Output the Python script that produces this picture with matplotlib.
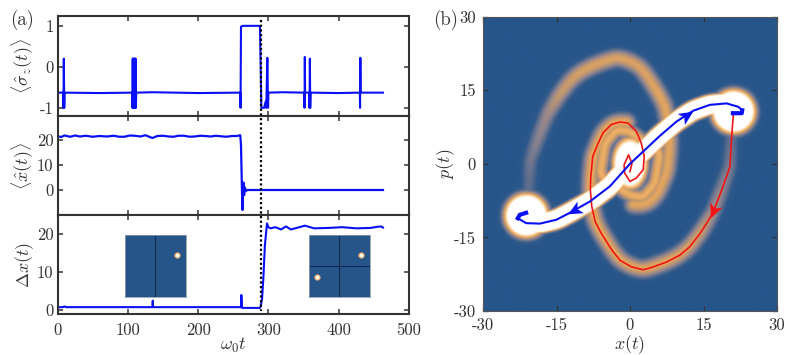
import numpy as np
import matplotlib
matplotlib.use("Agg")
import matplotlib.pyplot as plt
from matplotlib.colors import LinearSegmentedColormap
from matplotlib.lines import Line2D
from matplotlib.patches import Polygon
from matplotlib.transforms import blended_transform_factory

plt.rcParams['font.family'] = ['cmr10', 'DejaVu Sans']
plt.rcParams['mathtext.fontset'] = 'cm'
plt.rcParams['axes.unicode_minus'] = False
plt.rcParams['axes.formatter.use_mathtext'] = True

W, H = 797, 355
INK = '#333333'
BLUE = '#0a10f5'
RED = '#f01414'

# ---------- panel (a) data ----------
sz_t = [0, 8, 8.5, 9, 9.6, 10, 60, 106, 106.5, 107, 107.5, 108, 108.5, 109, 109.5, 110, 110.5, 111, 111.5, 112, 135,
        200, 260, 260.4, 261, 264, 287, 288, 290, 294, 296, 297, 298.5, 299.5, 300, 320, 351, 351.4, 351.8, 352.2,
        358, 358.5, 359, 359.5, 360, 400, 430, 430.4, 430.8, 431.2, 463]
sz_v = [-.63, -.63, -1, .2, -1, -.63, -.64, -.63, -1, .2, -1, .2, -1, .2, -1, .2, -1, .2, -1, -.63, -.62,
        -.64, -.63, -1, .98, 1, 1, .98, -1, -1, -.85, -1, .22, -1, -.63, -.62, -.63, -1, .24, -.63,
        -.63, -1, .2, -1, -.63, -.64, -.63, -1, .22, -.63, -.63]

xm_t = [0, 5, 10, 18, 25, 32, 40, 50, 60, 70, 80, 88, 95, 103, 110, 118, 125, 135, 142, 150, 158, 165, 172, 180, 188,
        195, 203, 210, 218, 225, 232, 240, 248, 255, 260, 261,
        263, 264.5, 265.5, 266.5, 268, 270, 300, 463]
xm_v = [21.5, 21.2, 21.8, 21.3, 21.8, 21.4, 21.7, 21.3, 21.6, 21.4, 21.7, 21.3, 21.3, 21.8, 21.7, 21.4, 21.9, 20.8,
        21.6, 21.7, 21.4, 21.3, 21.7, 21.7, 21.3, 21.4, 21.7, 21.6, 21.4, 21.7, 21.5, 21.3, 21.6, 21.6, 21.9, 18,
        -8, 3, -2, 1, -.4, 0, 0, 0]

dx_t = [0, 8, 10, 12, 135, 135.5, 136, 136.5, 261, 261.5, 262.5, 288, 289, 291, 293, 295, 298, 300, 303,
        310, 318, 325, 332, 340, 352, 365, 385, 405, 425, 445, 455, 460, 463]
dx_v = [.8, .8, 1, .8, .8, 2.5, .8, .8, .8, 4, .6, .6, 1, 3, 9, 17, 22.8, 21.8, 21.5,
        21.8, 21.2, 22, 21.2, 21.6, 22.2, 21.5, 21.6, 21.8, 21.5, 21.6, 21.9, 22, 21.7]
marker_t = 290

inset_left_pts = [(0.85, 0.67)]
inset_right_pts = [(0.85, 0.67), (0.14, 0.32)]

# ---------- panel (b) data ----------
blue_x = [21, 22.8, 22.9, 22.1, 19.7, 16.3, 12.9, 9.5, 6, 2.7, 0, -4.1, -8.2, -12.3, -15, -18.4, -21.2, -22.9, -22.5, -21.2]
blue_p = [10.3, 10.3, 10.9, 11.6, 12.3, 12, 10.8, 8.6, 5.6, 2.5, 0, -4.6, -7.7, -10, -11.4, -12.2, -12.1, -11.1, -10.4, -10]

red_x = [21.1, 20.7, 20.4, 18.7, 17, 15.6, 14.3, 12.2, 10.2, 7.5, 4.8, 2.7, .3, -2, -3.7, -5.9, -7.1, -7.8, -8.1, -8,
         -7.6, -6.5, -5.5, -3.8, -2.1, -.4, 1.3, 2.3, 2.9, 2.7, 1.3, 0, -1.1, -1.2, -.3, .4, 0]
red_p = [10.2, 4.8, -.6, -5.4, -9.8, -12.2, -14.2, -16.9, -18.6, -20, -21, -21.6, -21, -19.7, -17.6, -14.1, -11.8,
         -8.7, -5.3, -2.6, 1.5, 4.2, 6.3, 8, 8.5, 8.3, 6.6, 4.2, 1.5, -1.2, -2.9, -3.6, -1.9, -.2, 1.8, .1, -1.6]
red_glow = [.3, .2, .25, .3, .34, .4, .44, .47, .49, .5, .5, .5, .5, .5, .5, .52, .52, .52, .52, .52,
            .52, .52, .52, .52, .52, .52, .52, .52, .52, .52, .52, .52, .52, .52, .52, .52, .52]
ring_end = 26

inner_x = [-4, -6.1, -5.1, -2.7, 0, 2.4]
inner_p = [-5, -1.9, 4.1, 6.9, 6.5, 4.8]

blob_x = [21.2, -21.2]
blob_p = [10.6, -10.6]

# ---------- layout ----------
def axbox(l, t, r, b):
    return [l / W, 1 - b / H, (r - l) / W, (b - t) / H]

fig = plt.figure(figsize=(W / 100, H / 100), dpi=100)
ax1 = fig.add_axes(axbox(57.5, 16, 409, 116))
ax2 = fig.add_axes(axbox(57.5, 116, 409, 215))
ax3 = fig.add_axes(axbox(57.5, 215, 409, 314))
axb = fig.add_axes(axbox(483, 16.5, 777, 311))

xt = [0, 100, 200, 300, 400, 500]
for ax, ylim, yt, ytl, lab in [
    (ax1, (-1.2, 1.24), [-1, 0, 1], ['-1', '0', '1'], r'$\langle\hat{\sigma}_z(t)\rangle$'),
    (ax2, (-10, 29.6), [0, 10, 20], ['0', '10', '20'], r'$\langle\hat{x}(t)\rangle$'),
    (ax3, (-1, 25), [0, 10, 20], ['0', '10', '20'], r'$\Delta x(t)$'),
]:
    ax.set_xlim(0, 500)
    ax.set_ylim(*ylim)
    ax.set_xticks(xt)
    ax.set_yticks(yt)
    ax.set_yticklabels(ytl)
    ax.tick_params(direction='in', top=True, right=True, length=3.5, width=1.1, colors=INK,
                   labelsize=12, pad=3)
    ax.tick_params(axis='x', pad=6)
    ax.set_ylabel(lab, fontsize=13, color=INK)
    ax.yaxis.set_label_coords(-0.06, 0.5)
    for s in ax.spines.values():
        s.set_linewidth(1.5)
        s.set_color(INK)
ax1.tick_params(labelbottom=False)
ax2.tick_params(labelbottom=False)
ax3.set_xticklabels([str(v) for v in xt])
ax3.set_xlabel(r'$\omega_0 t$', fontsize=13, color=INK, labelpad=-1)

ax1.plot(sz_t, sz_v, color=BLUE, lw=1.5)
ax2.plot(xm_t, xm_v, color=BLUE, lw=1.6)
ax3.plot(dx_t, dx_v, color=BLUE, lw=1.5)

tr = blended_transform_factory(ax3.transData, fig.transFigure)
fig.add_artist(Line2D([marker_t, marker_t], [1 - 20 / H, 1 - 311 / H], transform=tr, color='k', lw=1.6,
                      ls=(0, (1, 1.1)), zorder=10))

# ---------- colour map ----------
cmap = LinearSegmentedColormap.from_list('wig', [(0, '#26558a'), (.1, '#2d588a'), (.28, '#8a8290'),
                                                 (.5, '#e6a65c'), (.72, '#fbd9a8'), (1, '#ffffff')])

# insets
for l, pts, cross in [(124.7, inset_left_pts, False), (308.7, inset_right_pts, True)]:
    ins = fig.add_axes(axbox(l, 235, l + 61.5, 296.5))
    ins.set_facecolor('#26558a')
    ins.set_xlim(0, 1)
    ins.set_ylim(0, 1)
    ins.set_xticks([])
    ins.set_yticks([])
    for s in ins.spines.values():
        s.set_linewidth(.6)
        s.set_color('#8f9aa8')
    ins.axvline(.5, color='#0f2c50', lw=.8)
    if cross:
        ins.axhline(.5, color='#0f2c50', lw=.8)
    for p in pts:
        ins.scatter(*p, s=20, color='#f0b070', linewidths=0, zorder=3)
        ins.scatter(*p, s=7, color='white', linewidths=0, zorder=4)

# ---------- panel (b) field ----------
gx = np.linspace(-30, 30, 400)
X, P = np.meshgrid(gx, gx)
Z = np.zeros_like(X)


def stamp(xs, ps, amps, sigma):
    """Ridge of brightness along a read-off path."""
    global Z
    xs, ps, amps = map(lambda v: np.asarray(v, float), (xs, ps, amps))
    s = np.r_[0, np.cumsum(np.hypot(np.diff(xs), np.diff(ps)))]
    u = np.arange(0, s[-1], .25)
    xx, pp, aa = np.interp(u, s, xs), np.interp(u, s, ps), np.interp(u, s, amps)
    k = np.ones(9) / 9
    pad = lambda v: np.convolve(np.r_[[v[0]] * 4, v, [v[-1]] * 4], k, mode='valid')
    xx, pp, aa = pad(xx), pad(pp), pad(aa)
    for a, b, c in zip(xx, pp, aa):
        Z = np.maximum(Z, c * np.exp(-((X - a) ** 2 + (P - b) ** 2) / (2 * sigma ** 2)))


glow = np.array(red_glow)
rx, rp = np.array(red_x), np.array(red_p)
stamp(rx[:ring_end], rp[:ring_end], glow[:ring_end], 1.35)
stamp(-rx[:ring_end], -rp[:ring_end], glow[:ring_end] * .95, 1.35)
stamp(inner_x, inner_p, np.full(len(inner_x), .54), 1.1)
stamp(-np.array(inner_x), -np.array(inner_p), np.full(len(inner_x), .54), 1.1)
bx, bp = np.array(blue_x[3:17]), np.array(blue_p[3:17])
stamp(bx, bp, np.full(len(bx), 6.0), .9)
for a, b in zip(blob_x, blob_p):
    Z = np.maximum(Z, 6 * np.exp(-((X - a) ** 2 + (P - b) ** 2) / (2 * 2.0 ** 2)))
Z = np.maximum(Z, 4 * np.exp(-(X ** 2 / (2 * 1.7 ** 2) + P ** 2 / (2 * 2.5 ** 2))))

axb.imshow(np.clip(Z, 0, 1), extent=(-30, 30, -30, 30), origin='lower', cmap=cmap, vmin=0, vmax=1,
           aspect='auto', interpolation='bilinear')
axb.plot(red_x, red_p, color=RED, lw=1.2)
axb.plot(blue_x, blue_p, color=BLUE, lw=1.5)
axb.plot(blue_x[:3], blue_p[:3], color=BLUE, lw=3)
axb.plot(blue_x[-3:], blue_p[-3:], color=BLUE, lw=3)


def stealth(tip, deg, col, length=2.9, half=1.35, notch=.75):
    a = np.radians(deg)
    d = np.array([np.cos(a), np.sin(a)])
    n = np.array([-d[1], d[0]])
    tip = np.array(tip)
    axb.add_patch(Polygon([tip, tip - length * d + half * n, tip - (length - notch) * d,
                           tip - length * d - half * n], closed=True, color=col, lw=0, zorder=5))


stealth((12.9, 10.6), 33, BLUE)
stealth((-12.6, -10.3), 209, BLUE)
stealth((16.5, -11.1), 247, RED)

axb.set_xlim(-30, 30)
axb.set_ylim(-30, 30)
bt = [-30, -15, 0, 15, 30]
btl = ['-30', '-15', '0', '15', '30']
axb.set_xticks(bt)
axb.set_yticks(bt)
axb.set_xticklabels(btl)
axb.set_yticklabels(btl)
axb.tick_params(direction='in', top=True, right=True, length=3.5, width=.9, colors=INK, labelsize=12, pad=5)
axb.tick_params(axis='x', pad=5)
axb.set_xlabel(r'$x(t)$', fontsize=13, color=INK, labelpad=0)
axb.set_ylabel(r'$p(t)$', fontsize=13, color=INK)
axb.yaxis.set_label_coords(-0.09, 0.5)
for s in axb.spines.values():
    s.set_linewidth(.8)
    s.set_color('#555555')

fig.text(10 / W, 1 - 20 / H, '(a)', fontsize=13.5, color=INK, va='center')
fig.text(433 / W, 1 - 20 / H, '(b)', fontsize=13.5, color=INK, va='center')

fig.savefig('out.png', dpi=100)
